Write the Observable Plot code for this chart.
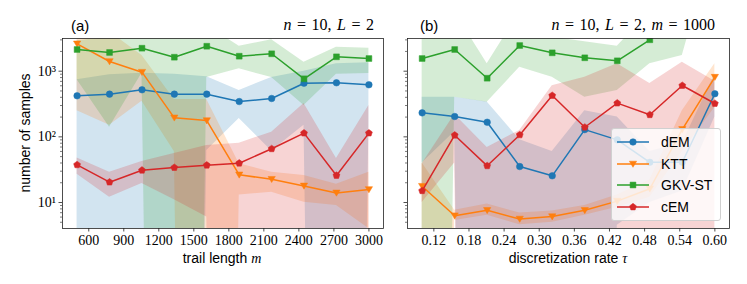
<!DOCTYPE html>
<html><head><meta charset="utf-8">
<script src="https://cdn.jsdelivr.net/npm/d3@7"></script>
<script src="https://cdn.jsdelivr.net/npm/@observablehq/plot@0.6"></script>
<style>
body{margin:0;background:#fff}
#wrap{position:relative;width:747px;height:284px;overflow:hidden;background:#fff;font-family:"Liberation Sans",Arial,sans-serif;color:#000}
.abs{position:absolute;white-space:nowrap;line-height:1}
.math{font-family:"Liberation Serif",serif}
.math i{font-style:italic}
</style></head><body>
<div id="wrap">
  <div id="pa" class="abs" style="left:0;top:0"></div>
  <div id="pb" class="abs" style="left:384px;top:0"></div>
  <div class="abs" style="left:71px;top:18px;font-size:15px">(a)</div>
  <div class="abs math" style="right:373px;top:17px;font-size:16px;word-spacing:1.5px"><i>n</i> = 10, <i>L</i> = 2</div>
  <div class="abs" style="left:420px;top:18px;font-size:15px">(b)</div>
  <div class="abs math" style="right:32px;top:17px;font-size:16px;word-spacing:1.5px"><i>n</i> = 10, <i>L</i> = 2, <i>m</i> = 1000</div>
  <div class="abs" style="left:25px;top:133px;font-size:14px;transform:translate(-50%,-50%) rotate(-90deg)">number of samples</div>
  <div class="abs" style="left:222px;top:258px;font-size:14px;transform:translate(-50%,-50%)">trail length <span class="math"><i>m</i></span></div>
  <div class="abs" style="left:568px;top:258px;font-size:14px;transform:translate(-50%,-50%)">discretization rate <span class="math"><i>τ</i></span></div>
  <div id="legend" class="abs" style="left:611px;top:128px;width:108px;height:91px;background:rgba(255,255,255,0.8);border:1px solid #d0d0d0;border-radius:3px"></div>
</div>
<script>
// ---------- data ----------
const seriesNames = ["dEM", "KTT", "GKV-ST", "cEM"];
const seriesColors = ["#1f77b4", "#ff7f0e", "#2ca02c", "#d62728"];

// panel (a): trail length m
const xsA = [500, 778, 1056, 1333, 1611, 1889, 2167, 2444, 2722, 3000];
const dEM_a = [422, 447, 521, 447, 447, 345, 384, 656, 666, 621];
const KTT_a = [2612, 1405, 966, 195, 177, 26.4, 22.6, 17.9, 14.0, 15.8];
const GKV_a = [2140, 1928, 2240, 1633, 2400, 1692, 1842, 766, 1656, 1560];
const cEM_a = [37.5, 20.4, 31, 34.1, 37, 39.7, 65.8, 114, 25.8, 114];
const dEM_lo_a = [0, 0, 0, 0, 62, 190, 61, 150, 0, 150];
const dEM_hi_a = [740, 880, 930, 900, 820, 510, 800, 1000, 1300, 1350];
const KTT_lo_a = [250, 150, 350, 60, 0, 13, 14.3, 10.1, 9.0, 4];
const KTT_hi_a = [6000, 4000, 1730, 370, 370, 39, 29, 25.7, 19, 29];
const GKV_lo_a = [740, 140, 930, 0, 800, 1090, 800, 300, 900, 920];
const GKV_hi_a = [2900, 3300, 5000, 3500, 5000, 2400, 3000, 1370, 2320, 2240];
const cEM_lo_a = [27, 12, 19.5, 11, 6, 0, 0, 0, 0, 0];
const cEM_hi_a = [47.5, 29, 42, 56, 74, 80, 118, 321, 47, 300];

// panel (b): discretization rate tau
const xsB = [0.1, 0.1556, 0.2111, 0.2667, 0.3222, 0.3778, 0.4333, 0.4889, 0.5444, 0.6];
const dEM_b = [232, 204, 167, 35.3, 25.5, 129, 90, 41, 41, 453];
const KTT_b = [17.7, 6.3, 7.6, 5.6, 6.1, 7.6, 10.5, 16.2, 130, 811];
const GKV_b = [1560, 2140, 782, 2460, 1905, 1600, 1440, 3010, 50000, 50000];
const cEM_b = [15.1, 106, 36.2, 107, 426, 140, 326, 217, 605, 322];
const dEM_lo_b = [40, 120, 0, 0, 0, 0, 4.5, 10, 15, 200];
const dEM_hi_b = [400, 400, 340, 90, 60, 250, 200, 60, 80, 900];
const KTT_lo_b = [0, 5.3, 6.4, 4.6, 5.0, 6.4, 8.5, 12, 60, 280];
const KTT_hi_b = [40, 7.6, 9.5, 6.9, 7.4, 9.0, 13, 22, 250, 1300];
const GKV_lo_b = [0, 400, 337, 1150, 810, 400, 510, 1300, 1730, 100000];
const GKV_hi_b = [8000, 8000, 1300, 8000, 3300, 2800, 2400, 8000, 1000000, 1000000];
const cEM_lo_b = [10, 40, 0, 0, 0, 0, 0, 0, 0, 0];
const cEM_hi_b = [39, 220, 69, 125, 600, 810, 1300, 650, 1370, 700];

// ticks
const yMajor = [10, 100, 1000];
const yMajorLabels = ["10¹", "10²", "10³"];
const yMinor = [5, 6, 7, 8, 9, 20, 30, 40, 50, 60, 70, 80, 90, 200, 300, 400, 500, 600, 700, 800, 900, 2000, 3000];
const xTicksA = [600, 900, 1200, 1500, 1800, 2100, 2400, 2700, 3000];
const xTickLabelsA = ["600", "900", "1200", "1500", "1800", "2100", "2400", "2700", "3000"];
const xTicksB = [0.12, 0.18, 0.24, 0.30, 0.36, 0.42, 0.48, 0.54, 0.60];
const xTickLabelsB = ["0.12", "0.18", "0.24", "0.30", "0.36", "0.42", "0.48", "0.54", "0.60"];

// ---------- markers ----------
const triDown = {draw(ctx, size) {const r = Math.sqrt(size / Math.PI); ctx.moveTo(0, r * 1.0); ctx.lineTo(-r * 1.1, -r * 0.85); ctx.lineTo(r * 1.1, -r * 0.85); ctx.closePath();}};
const squareM = {draw(ctx, size) {const h = Math.sqrt(size / Math.PI) * 0.88; ctx.rect(-h, -h, 2 * h, 2 * h);}};
const pentagon = {draw(ctx, size) {const r = Math.sqrt(size / Math.PI) * 1.1; for (let k = 0; k < 5; k++) {const a = -Math.PI / 2 + k * 2 * Math.PI / 5; const x = r * Math.cos(a), y = r * Math.sin(a); if (k) ctx.lineTo(x, y); else ctx.moveTo(x, y);} ctx.closePath();}};
const seriesSymbols = [d3.symbolCircle, triDown, squareM, pentagon];

function rows(xs, v, lo, hi) {return xs.map((x, i) => ({x, y: v[i], lo: lo[i], hi: hi[i]}));}

const Y_DOMAIN = [4.02, 3148];

function panel({data, xDomain, xTicks, xLabels, width, ml, mr, yLabels}) {
  const marks = [];
  data.forEach((d, i) => {
    marks.push(Plot.areaY(d, {x: "x", y1: r => Math.max(r.lo, 1e-30), y2: "hi", fill: seriesColors[i], fillOpacity: 0.2, clip: true}));
  });
  data.forEach((d, i) => {
    marks.push(Plot.line(d, {x: "x", y: "y", stroke: seriesColors[i], strokeWidth: 1.5, clip: true}));
    marks.push(Plot.dot(d, {x: "x", y: "y", r: 3.3, symbol: seriesSymbols[i], fill: seriesColors[i], stroke: seriesColors[i], strokeWidth: 0.5, clip: true}));
  });
  marks.push(Plot.axisY({ticks: yMinor, tickSize: 2, tickFormat: () => "", label: null, strokeWidth: 0.6, stroke: "#222"}));
  marks.push(Plot.axisY({ticks: yMajor, tickSize: 3.5, tickPadding: 3, label: null, stroke: "#222", strokeWidth: 0.8,
    tickFormat: yLabels ? (v => yMajorLabels[yMajor.indexOf(v)]) : () => "", fontSize: 14, fontFamily: "Liberation Serif, serif"}));
  marks.push(Plot.axisX({ticks: xTicks, tickSize: 3.5, tickPadding: 3, label: null, stroke: "#222", strokeWidth: 0.8,
    tickFormat: v => xLabels[xTicks.indexOf(v)], fontSize: 14, fontFamily: "Liberation Serif, serif"}));
  marks.push(Plot.frame({stroke: "#222", strokeWidth: 0.8}));
  return Plot.plot({
    width, height: 284, marginLeft: ml, marginRight: mr, marginTop: 38, marginBottom: 56,
    x: {domain: xDomain, label: null},
    y: {type: "log", domain: Y_DOMAIN, label: null},
    style: {background: "transparent", fontFamily: "Liberation Serif, serif", fontSize: "14px", color: "#000", overflow: "visible"},
    marks
  });
}

const dataA = [rows(xsA, dEM_a, dEM_lo_a, dEM_hi_a), rows(xsA, KTT_a, KTT_lo_a, KTT_hi_a), rows(xsA, GKV_a, GKV_lo_a, GKV_hi_a), rows(xsA, cEM_a, cEM_lo_a, cEM_hi_a)];
const dataB = [rows(xsB, dEM_b, dEM_lo_b, dEM_hi_b), rows(xsB, KTT_b, KTT_lo_b, KTT_hi_b), rows(xsB, GKV_b, GKV_lo_b, GKV_hi_b), rows(xsB, cEM_b, cEM_lo_b, cEM_hi_b)];

document.getElementById("pa").appendChild(panel({data: dataA, xDomain: [375, 3125], xTicks: xTicksA, xLabels: xTickLabelsA, width: 390, ml: 62, mr: 7, yLabels: true}));
document.getElementById("pb").appendChild(panel({data: dataB, xDomain: [0.075, 0.625], xTicks: xTicksB, xLabels: xTickLabelsB, width: 363, ml: 23, mr: 18, yLabels: false}));

// legend
const leg = document.getElementById("legend");
seriesNames.forEach((name, i) => {
  const row = document.createElement("div");
  row.className = "abs";
  row.style.left = "4px"; row.style.top = (5 + i * 21.5) + "px"; row.style.height = "16px";
  const p = d3.path(); seriesSymbols[i].draw(p, Math.PI * 3.3 * 3.3);
  row.innerHTML = `<svg width="34" height="16" style="position:absolute;left:0;top:0"><line x1="1" x2="33" y1="8" y2="8" stroke="${seriesColors[i]}" stroke-width="1.5"/><path transform="translate(17,8)" d="${p.toString()}" fill="${seriesColors[i]}" stroke="${seriesColors[i]}" stroke-width="0.5"/></svg><span style="position:absolute;left:45px;top:1px;font-size:14px">${name}</span>`;
  leg.appendChild(row);
});
</script>
</body></html>
